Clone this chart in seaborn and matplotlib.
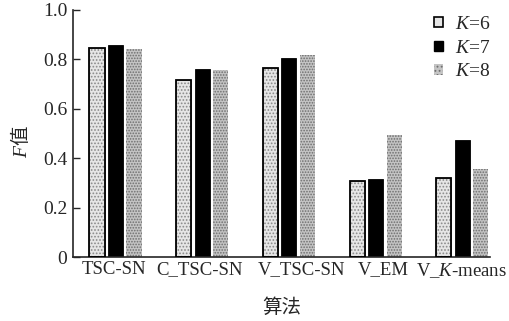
import numpy as np
import pandas as pd
import matplotlib
matplotlib.use("Agg")
import matplotlib.pyplot as plt
import matplotlib.transforms as mtransforms
from matplotlib.patches import Patch, Rectangle
import seaborn as sns

# F values
algos = ["TSC-SN", "C_TSC-SN", "V_TSC-SN", "V_EM", "V_K-means"]
tick_labels = ["TSC-SN", "C_TSC-SN", "V_TSC-SN", "V_EM", r"V_$K$-means"]
k6 = [0.847, 0.715, 0.764, 0.309, 0.320]
k7 = [0.860, 0.763, 0.805, 0.318, 0.473]
k8 = [0.840, 0.759, 0.816, 0.493, 0.356]
k_names = ["K=6", "K=7", "K=8"]
y_ticks = [0, 0.2, 0.4, 0.6, 0.8, 1.0]
y_tick_labels = ["0", "0.2", "0.4", "0.6", "0.8", "1.0"]

df = pd.DataFrame({
    "algo": algos * 3,
    "F": k6 + k7 + k8,
    "K": [k_names[0]] * 5 + [k_names[1]] * 5 + [k_names[2]] * 5,
})

sns.set_style("ticks")
plt.rcParams["font.family"] = ["Liberation Serif", "Noto Sans CJK SC"]
plt.rcParams["mathtext.fontset"] = "custom"
plt.rcParams["mathtext.rm"] = "Liberation Serif"
plt.rcParams["mathtext.it"] = "Liberation Serif:italic"
plt.rcParams["hatch.linewidth"] = 0.8

fs = 14
fig = plt.figure(figsize=(5.10, 3.21), dpi=100)
ax = fig.add_axes([0.143, 0.199, 0.818, 0.770])

face = {"K=6": "#e6e6e6", "K=7": "black", "K=8": "#c4c4c4"}
sns.barplot(data=df, x="algo", y="F", hue="K", palette=face,
            width=0.64, gap=0.18, legend=False, ax=ax, saturation=1)

# style each series like the printed figure
styles = [("#8a8a8a", "....."), ("black", None), ("#6e6e6e", "......")]
for i, (cont, (ec, hatch)) in enumerate(zip(ax.containers, styles)):
    for p in cont:
        p.set_edgecolor(ec)
        p.set_linewidth(0 if i == 2 else 0.6)
        if hatch:
            p.set_hatch(hatch)
# black outline on the K=6 bars
for p in ax.containers[0]:
    ax.add_patch(Rectangle(p.get_xy(), p.get_width(), p.get_height(),
                           fill=False, ec="black", lw=1.3, zorder=3))

ax.set_xlim(-0.49, 4.32)
ax.set_ylim(0, 1.0)
ax.set_yticks(y_ticks)
ax.set_yticklabels(y_tick_labels, fontsize=fs)
ax.set_xticks(range(len(algos)))
ax.set_xticklabels(tick_labels, fontsize=13.5)
ax.tick_params(axis="y", direction="in", length=5, width=1, pad=4)
ax.tick_params(axis="x", length=0, pad=3)

# the labels in the original are nudged sideways so they don't collide
nudge_px = [-1, -3, 13, 8, -1]
for lab, dx in zip(ax.get_xticklabels(), nudge_px):
    lab.set_transform(lab.get_transform() +
                      mtransforms.ScaledTranslation(dx / 100, 0, fig.dpi_scale_trans))

sns.despine(ax=ax)
for s in ["left", "bottom"]:
    ax.spines[s].set_linewidth(1.2)

ax.set_xlabel("算法", fontsize=fs, family="Noto Sans CJK SC", labelpad=12)
ax.set_ylabel("")
fig.text(0.04, 0.56, r"$F$值", rotation=90, fontsize=fs,
         family="Noto Sans CJK SC", ha="center", va="center")

handles = [
    Patch(facecolor="#e6e6e6", edgecolor="black", lw=1.2),
    Patch(facecolor="black", edgecolor="black"),
    Patch(facecolor="#c4c4c4", edgecolor="#6e6e6e", hatch="....", lw=0),
]
ax.legend(handles, [r"$K$=6", r"$K$=7", r"$K$=8"], loc="upper right",
          bbox_to_anchor=(1.0, 0.976), frameon=False, fontsize=fs,
          handlelength=0.45, handleheight=0.45, handletextpad=0.6,
          labelspacing=0.35, borderpad=0, borderaxespad=0)

fig.savefig("out.png", dpi=100)
